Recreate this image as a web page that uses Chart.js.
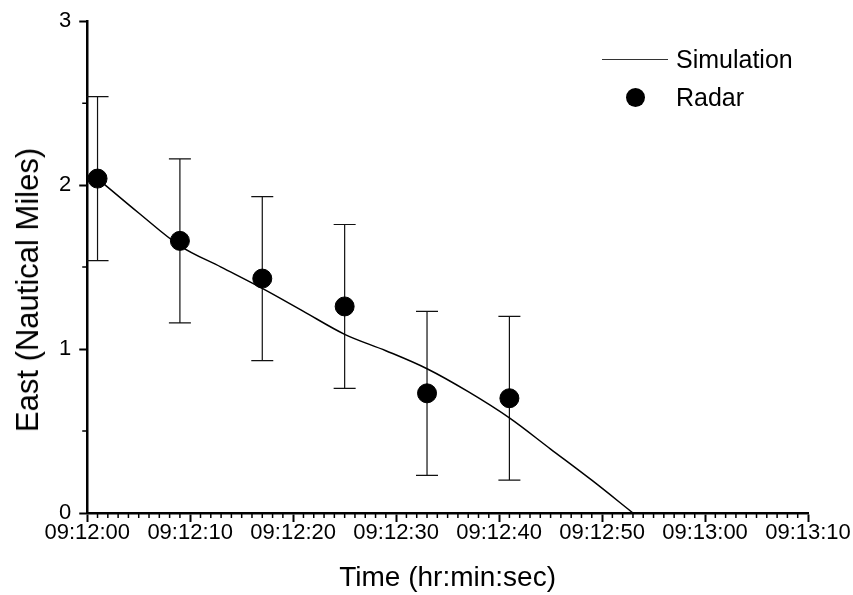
<!DOCTYPE html>
<html>
<head>
<meta charset="utf-8">
<script src="https://cdn.jsdelivr.net/npm/chart.js@4.4.1/dist/chart.umd.min.js"></script>
<style>
    html, body { margin: 0; padding: 0; background: #fff; }
    #wrap { position: relative; width: 853px; height: 595px; font-family: 'Liberation Sans', Arial, sans-serif; color: #000; }
    #legend { position: absolute; left: 600px; top: 40px; font-size: 25px; }
    #legend .row { display: flex; align-items: center; height: 38px; }
    #legend .sym { width: 70px; display: flex; justify-content: center; align-items: center; margin-right: 6px; }
    #legend .line { width: 66px; border-top: 1px solid #333; }
    #legend .dot { width: 19px; height: 19px; border-radius: 50%; background: #000; }
    #ytitle { position: absolute; left: 28px; top: 290px; font-size: 31px; white-space: nowrap; transform: translate(-50%, -50%) rotate(-90deg); }
</style>
</head>
<body>
<div id="wrap">
    <canvas id="chart"></canvas>
    <div id="ytitle">East (Nautical Miles)</div>
    <div id="legend">
        <div class="row"><span class="sym"><span class="line"></span></span><span>Simulation</span></div>
        <div class="row"><span class="sym"><span class="dot"></span></span><span>Radar</span></div>
    </div>
</div>
<script>
// seconds after 09:12:00
const simTimes = [1, 5, 9, 13, 17, 21, 25, 29, 33, 37, 41, 45, 49, 53];
const simEast = [2.04, 1.83, 1.63, 1.50, 1.37, 1.23, 1.09, 0.99, 0.88, 0.74, 0.58, 0.39, 0.20, 0.0];

const radarTimes = [1, 9, 17, 25, 33, 41];
const radarEast = [2.04, 1.66, 1.43, 1.26, 0.73, 0.70];
const radarErr = [0.5, 0.5, 0.5, 0.5, 0.5, 0.5];

const yTicks = [0, 1, 2, 3];
const xMax = 70;

const FONT = "'Liberation Sans', Arial, sans-serif";

function timeLabel(sec) {
    const total = 12 * 60 + sec;
    const mm = Math.floor(total / 60);
    const ss = total % 60;
    return `09:${String(mm).padStart(2, '0')}:${String(ss).padStart(2, '0')}`;
}

// vertical error bars on the radar points
const errorBars = {
    id: 'errorBars',
    beforeDatasetsDraw(chart) {
        const { ctx, scales: { x, y } } = chart;
        ctx.save();
        ctx.strokeStyle = '#111';
        ctx.lineWidth = 1.2;
        radarTimes.forEach((t, i) => {
            const px = x.getPixelForValue(t);
            const top = y.getPixelForValue(radarEast[i] + radarErr[i]);
            const bot = y.getPixelForValue(radarEast[i] - radarErr[i]);
            ctx.beginPath();
            ctx.moveTo(px, top); ctx.lineTo(px, bot);
            ctx.moveTo(px - 11, top); ctx.lineTo(px + 11, top);
            ctx.moveTo(px - 11, bot); ctx.lineTo(px + 11, bot);
            ctx.stroke();
        });
        ctx.restore();
    }
};

// short minor ticks: every second on x, every 0.5 on y
const minorTicks = {
    id: 'minorTicks',
    afterDraw(chart) {
        const { ctx, chartArea, scales: { x, y } } = chart;
        ctx.save();
        ctx.strokeStyle = '#000';
        ctx.lineWidth = 1.5;
        ctx.beginPath();
        for (let s = 0; s <= xMax; s++) {
            if (s % 10 === 0) continue;
            const px = x.getPixelForValue(s);
            ctx.moveTo(px, chartArea.bottom);
            ctx.lineTo(px, chartArea.bottom + 5);
        }
        for (let v = 0.5; v < 3; v += 1) {
            const py = y.getPixelForValue(v);
            ctx.moveTo(chartArea.left, py);
            ctx.lineTo(chartArea.left - 5, py);
        }
        ctx.stroke();
        ctx.restore();
    }
};

new Chart(document.getElementById('chart'), {
    type: 'scatter',
    data: {
        datasets: [
            {
                label: 'Simulation',
                type: 'line',
                data: simTimes.map((t, i) => ({ x: t, y: simEast[i] })),
                borderColor: '#000',
                borderWidth: 1.5,
                pointRadius: 0,
                fill: false,
                cubicInterpolationMode: 'monotone'
            },
            {
                label: 'Radar',
                data: radarTimes.map((t, i) => ({ x: t, y: radarEast[i] })),
                backgroundColor: '#000',
                borderColor: '#000',
                pointRadius: 9.5,
                pointHoverRadius: 9.5
            }
        ]
    },
    options: {
        responsive: true,
        maintainAspectRatio: false,
        animation: false,
        layout: { padding: { top: 9, right: 45, left: 51, bottom: 0 } },
        plugins: {
            legend: { display: false },
            tooltip: { enabled: false }
        },
        scales: {
            x: {
                type: 'linear',
                min: 0,
                max: xMax,
                border: { display: true, color: '#000', width: 2.5 },
                grid: { drawOnChartArea: false, drawTicks: true, tickLength: 9, tickWidth: 2, tickColor: '#000' },
                ticks: {
                    stepSize: 10,
                    color: '#000',
                    font: { family: FONT, size: 22 },
                    padding: -2,
                    maxRotation: 0,
                    callback: (v) => timeLabel(v)
                },
                title: {
                    display: true,
                    text: 'Time (hr:min:sec)',
                    color: '#000',
                    font: { family: FONT, size: 28 },
                    padding: { top: 17, bottom: 0 }
                }
            },
            y: {
                min: 0,
                max: 3,
                border: { display: true, color: '#000', width: 2.5 },
                grid: { drawOnChartArea: false, drawTicks: true, tickLength: 8, tickWidth: 2, tickColor: '#000' },
                afterBuildTicks: (axis) => { axis.ticks = yTicks.map((v) => ({ value: v })); },
                ticks: {
                    color: '#000',
                    font: { family: FONT, size: 22 },
                    padding: 8
                }
            }
        }
    },
    plugins: [errorBars, minorTicks]
});
</script>
</body>
</html>
